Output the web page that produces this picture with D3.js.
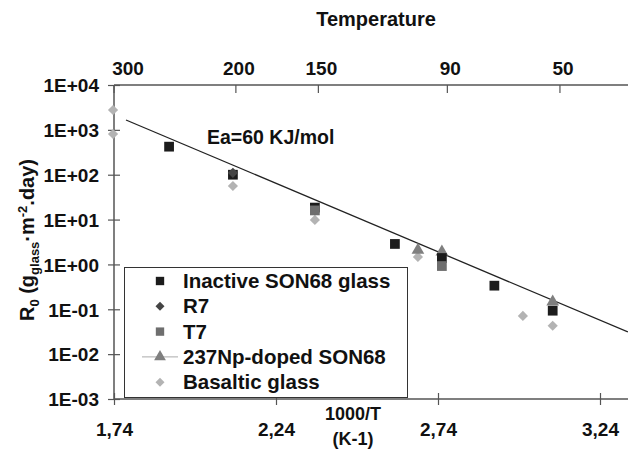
<!DOCTYPE html>
<html>
<head>
<meta charset="utf-8">
<script src="https://cdn.jsdelivr.net/npm/d3@7"></script>
<style>
  body { margin: 0; background: #fff; }
  svg text { font-family: "Liberation Sans", Arial, sans-serif; font-weight: bold; fill: #111; }
</style>
</head>
<body>
<div id="chart"></div>
<script>
// 1000/T (K-1) and R0 values
var inactiveX = [1.91, 2.107, 2.36, 2.607, 2.752, 2.914, 3.094];
var inactiveY = [422, 100, 18.5, 2.86, 1.39, 0.336, 0.093];
var r7X = [2.107];
var r7Y = [110];
var t7X = [2.36, 2.752];
var t7Y = [16, 0.92];
var npX = [2.678, 2.752, 3.094];
var npY = [2.1, 1.9, 0.146];
var basaltX = [1.737, 1.737, 2.107, 2.36, 2.678, 3.002, 3.094];
var basaltY = [2770, 809, 56, 9.8, 1.47, 0.071, 0.043];

// Arrhenius fit line end points (Ea = 60 kJ/mol)
var fitX = [1.777, 3.326];
var fitY = [1660, 0.0312];

var legendNames = ["Inactive SON68 glass", "R7", "T7", "237Np-doped SON68", "Basaltic glass"];

var yTickValues = [1e4, 1e3, 1e2, 1e1, 1e0, 1e-1, 1e-2, 1e-3];
var yTickLabels = ["1E+04", "1E+03", "1E+02", "1E+01", "1E+00", "1E-01", "1E-02", "1E-03"];
var xTickValues = [1.74, 2.24, 2.74, 3.24];
var xTickLabels = ["1,74", "2,24", "2,74", "3,24"];
var tempTicks = [300, 200, 150, 90, 50];

var width = 628, height = 453;
var margin = {top: 85, left: 114, bottom: 54};

var svg = d3.select("#chart").append("svg")
    .attr("width", width)
    .attr("height", height);

var x = d3.scaleLinear().domain([1.74, 3.24]).range([margin.left, 600]);
var y = d3.scaleLog().domain([1e-3, 1e4]).range([height - margin.bottom, margin.top]);

// top axis is laid out in 1000/T too, a bit wider than the bottom one
var xTop = d3.scaleLinear().domain([1.74, 3.24]).range([x(1.74) - 1.5, x(3.24) + 8]);
function tempToInv(t) { return 1000 / (t + 273.15); }

var axisColor = "#555";
var x0 = margin.left, yBottom = y(1e-3), yTop = y(1e4);

// axis lines
svg.append("line").attr("x1", x0).attr("x2", width).attr("y1", yTop).attr("y2", yTop)
    .attr("stroke", axisColor).attr("stroke-width", 1.5);
svg.append("line").attr("x1", x0).attr("x2", width).attr("y1", yBottom).attr("y2", yBottom)
    .attr("stroke", axisColor).attr("stroke-width", 1.5);
svg.append("line").attr("x1", x0).attr("x2", x0).attr("y1", yTop).attr("y2", yBottom)
    .attr("stroke", axisColor).attr("stroke-width", 1.5);

// y axis
var yAxis = d3.axisLeft(y)
    .tickValues(yTickValues)
    .tickFormat(function(d, i) { return yTickLabels[i]; })
    .tickSize(6)
    .tickPadding(9);
var gy = svg.append("g").attr("transform", "translate(" + x0 + ",0)").call(yAxis);
gy.select(".domain").remove();
gy.selectAll(".tick line").attr("x1", 6).attr("stroke", axisColor).attr("stroke-width", 1.2);
gy.selectAll(".tick text").style("font-size", "19px").attr("dy", "0.36em");

// bottom axis
var xAxis = d3.axisBottom(x)
    .tickValues(xTickValues)
    .tickFormat(function(d, i) { return xTickLabels[i]; })
    .tickSize(6)
    .tickPadding(18);
var gx = svg.append("g").attr("transform", "translate(0," + yBottom + ")").call(xAxis);
gx.select(".domain").remove();
gx.selectAll(".tick line").attr("y1", -6).attr("stroke", axisColor).attr("stroke-width", 1.2);
gx.selectAll(".tick text").style("font-size", "19px");

// top temperature axis
var gt = svg.append("g").attr("transform", "translate(0," + yTop + ")");
gt.selectAll("line").data(tempTicks).enter().append("line")
    .attr("x1", function(d) { return xTop(tempToInv(d)); })
    .attr("x2", function(d) { return xTop(tempToInv(d)); })
    .attr("y1", 0).attr("y2", 8)
    .attr("stroke", axisColor).attr("stroke-width", 1.2);
gt.selectAll("text").data(tempTicks).enter().append("text")
    .attr("x", function(d) { return xTop(tempToInv(d)) + (d == 300 ? 14 : 3); })
    .attr("y", -10)
    .attr("text-anchor", "middle")
    .style("font-size", "19px")
    .text(function(d) { return d; });

svg.append("text").attr("x", 376).attr("y", 26).attr("text-anchor", "middle")
    .style("font-size", "20px").text("Temperature");

svg.append("text").attr("x", 353).attr("y", 420).attr("text-anchor", "middle")
    .style("font-size", "18px").text("1000/T");
svg.append("text").attr("x", 353).attr("y", 445).attr("text-anchor", "middle")
    .style("font-size", "18px").text("(K-1)");

// y title with sub/superscripts
var yTitle = svg.append("text")
    .attr("transform", "translate(34,240) rotate(-90)")
    .attr("text-anchor", "middle")
    .style("font-size", "20px");
yTitle.append("tspan").text("R");
yTitle.append("tspan").attr("dy", 5).style("font-size", "13px").text("0");
yTitle.append("tspan").attr("dy", -5).text(" (g");
yTitle.append("tspan").attr("dy", 5).style("font-size", "13px").text("glass");
yTitle.append("tspan").attr("dy", -5).text("·m");
yTitle.append("tspan").attr("dy", -7).style("font-size", "13px").text("-2");
yTitle.append("tspan").attr("dy", 7).text(".day)");

// fit line
var fitData = fitX.map(function(d, i) { return [d, fitY[i]]; });
svg.append("path")
    .datum(fitData)
    .attr("d", d3.line().x(function(d) { return x(d[0]); }).y(function(d) { return y(d[1]); }))
    .attr("stroke", "#222").attr("stroke-width", 1.3).attr("fill", "none");

svg.append("text").attr("x", 207).attr("y", 144).style("font-size", "19.5px").text("Ea=60 KJ/mol");

// markers: diamonds are squares turned 45 degrees
var markerShapes = {
    square: {path: d3.symbol().type(d3.symbolSquare).size(95)(), rot: 0},
    diamond: {path: d3.symbol().type(d3.symbolSquare).size(52)(), rot: 45},
    triangle: {path: d3.symbol().type(d3.symbolTriangle).size(70)(), rot: 0}
};

var series = [
    {xs: basaltX, ys: basaltY, shape: "diamond", color: "#b3b3b3"},
    {xs: npX, ys: npY, shape: "triangle", color: "#7f7f7f"},
    {xs: inactiveX, ys: inactiveY, shape: "square", color: "#1c1c1c"},
    {xs: r7X, ys: r7Y, shape: "diamond", color: "#444"},
    {xs: t7X, ys: t7Y, shape: "square", color: "#6e6e6e"}
];

series.forEach(function(s) {
    var pts = s.xs.map(function(d, i) { return [d, s.ys[i]]; });
    var m = markerShapes[s.shape];
    svg.append("g").selectAll("path").data(pts).enter().append("path")
        .attr("transform", function(d) {
            return "translate(" + x(d[0]) + "," + y(d[1]) + ") rotate(" + m.rot + ")";
        })
        .attr("d", m.path)
        .attr("fill", s.color);
});

// legend
var legend = svg.append("g");
legend.append("rect")
    .attr("x", 124.5).attr("y", 267.5).attr("width", 283).attr("height", 130)
    .attr("fill", "#fff").attr("stroke", "#333").attr("stroke-width", 1);

var legendItems = [
    {shape: d3.symbolSquare, size: 70, rot: 0, color: "#1c1c1c"},
    {shape: d3.symbolSquare, size: 40, rot: 45, color: "#444"},
    {shape: d3.symbolSquare, size: 70, rot: 0, color: "#6e6e6e"},
    {shape: d3.symbolTriangle, size: 60, rot: 0, color: "#7f7f7f", line: true},
    {shape: d3.symbolSquare, size: 40, rot: 45, color: "#b3b3b3"}
];
legendItems.forEach(function(item, i) {
    var ly = 281 + i * 25.3;
    if (item.line) {
        legend.append("line").attr("x1", 142).attr("x2", 178).attr("y1", ly).attr("y2", ly)
            .attr("stroke", "#aaa").attr("stroke-width", 1);
    }
    legend.append("path")
        .attr("transform", "translate(160," + ly + ") rotate(" + item.rot + ")")
        .attr("d", d3.symbol().type(item.shape).size(item.size)())
        .attr("fill", item.color);
    legend.append("text").attr("x", 183).attr("y", ly + 7)
        .style("font-size", "20.5px").text(legendNames[i]);
});
</script>
</body>
</html>
